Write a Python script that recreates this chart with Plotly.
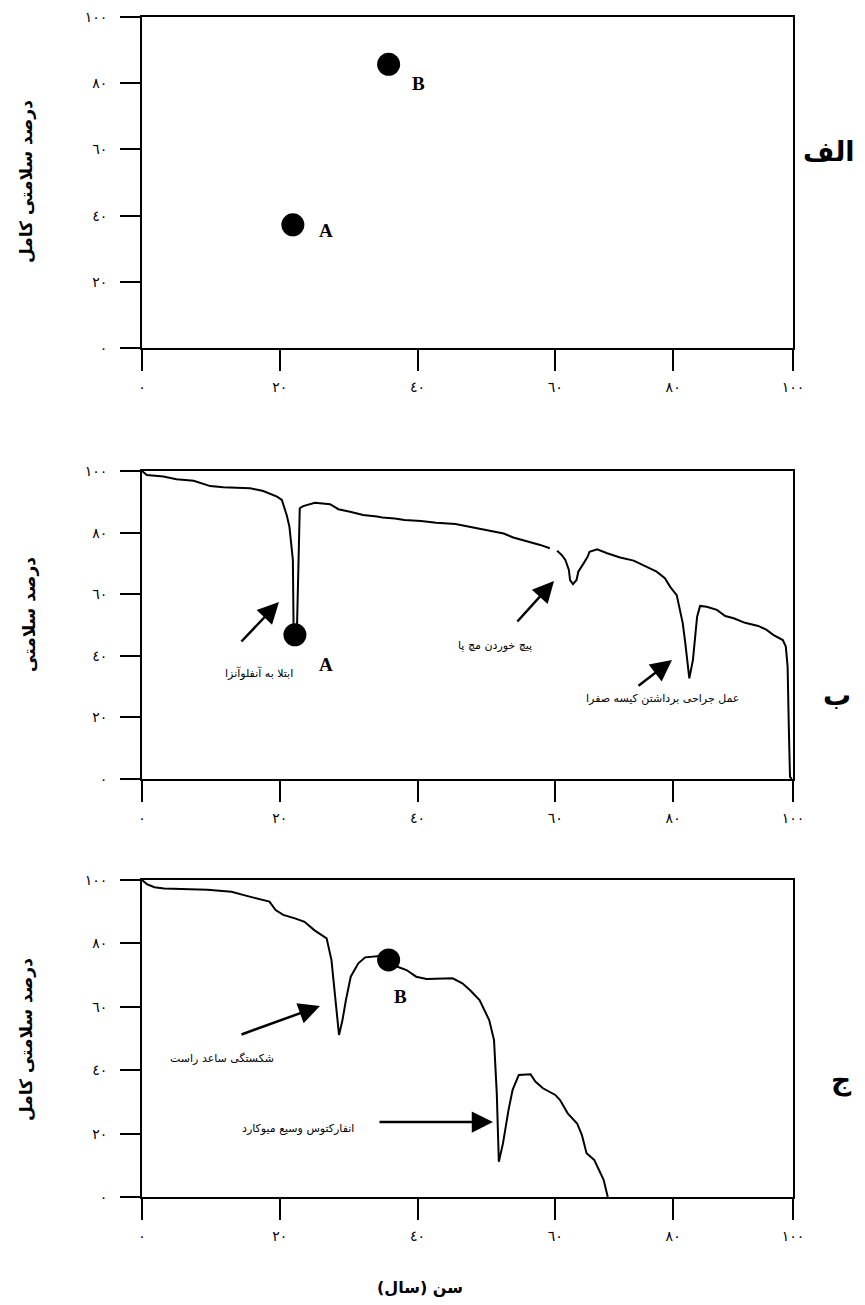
import numpy as np
import plotly.graph_objects as go

# The page body has an 8px margin, so the figure is drawn 8px smaller than the window
# and every reference pixel position is shifted by that offset.
OFF = 8
W, H = 865 - 2 * OFF, 1305 - 2 * OFF

# ---------- axis ticks ----------
TICK_AGES = [0, 20, 40, 60, 80, 100]
TICK_LABELS = ["٠", "٢٠", "٤٠", "٦٠", "٨٠", "١٠٠"]
TICK_POS = [0, 20, 40, 60, 77.1, 94.5]   # the printed age axis is not evenly spaced
Y_TICKS = [0, 20, 40, 60, 80, 100]
Y_LABELS = ["٠", "٢٠", "٤٠", "٦٠", "٨٠", "١٠٠"]

# ---------- panel الف : two points ----------
pts_a_age = [21.9, 35.8]
pts_a_health = [37.2, 85.7]
pts_a_names = ["A", "B"]

# ---------- panel ب : health curve (None = gap in the line) ----------
age_b = [0, 0.7, 3.1, 5.0, 7.5, 9.9, 11.8, 15.7, 17.6, 19.6, 20.3, 21.0, 21.4, 21.9, 22.0,
         22.2, 22.5, 22.7, 22.9, 23.4, 25.1, 27.3, 28.5, 30.2, 32.1, 34.1, 34.9, 36.7, 38.1,
         40.5, 42.7, 45.5, 47.6, 50.4, 52.5, 53.9, 55.8, 57.8, 59.2, None, 60.3, 61.1, 61.7,
         62.3, 62.5, 63.0, 63.6, 63.9, 64.8, 65.5, 65.8, 67.1, 68.8, 71.0, 73.3, 75.5, 77.2,
         78.6, 79.5, 80.6, 81.6, 82.0, 82.7, 83.3, 84.0, 84.5, 85.6, 87.3, 88.7, 90.1, 92.0,
         94.2, 95.6, 96.7, 98.3, 98.8, 99.1, 99.3, 99.5, 99.8]
health_b = [100, 98.7, 98.2, 97.3, 96.8, 95.1, 94.7, 94.4, 93.5, 91.7, 90.6, 85.7, 81.9, 71.1, 49.4,
            46.8, 49.4, 71.1, 87.9, 88.6, 89.7, 89.2, 87.6, 86.8, 85.7, 85.2, 84.9, 84.6, 84.1,
            83.8, 83.2, 82.8, 81.9, 80.8, 79.7, 78.4, 77.3, 76.0, 74.9, None, 74.1, 72.7, 71.1,
            67.9, 64.6, 63.3, 64.6, 67.3, 70.0, 72.2, 73.8, 74.6, 73.3, 71.9, 70.9, 68.9, 67.3,
            65.2, 62.4, 59.7, 50.6, 44.6, 32.7, 38.6, 52.7, 56.2, 55.9, 54.9, 52.9, 52.2, 50.7,
            49.7, 48.4, 46.8, 45.1, 43.0, 36.5, 17.0, 0.7, 0]
pt_b_age = [22.2]
pt_b_health = [46.8]

# ---------- panel ج : health curve ----------
age_c = [0, 0.7, 1.8, 3.2, 9.5, 13.0, 15.2, 18.5, 19.4, 20.5, 22.2, 23.6, 25.0, 26.4, 26.8,
         27.5, 28.0, 28.4, 28.6, 29.1, 29.6, 30.3, 31.4, 32.4, 34.5, 35.8, 37.0, 38.4, 39.8,
         41.3, 45.1, 46.5, 47.6, 49.0, 49.7, 50.4, 51.1, 51.5, 51.8, 52.4, 53.2, 53.8, 54.7,
         56.4, 57.1, 58.2, 60.0, 60.8, 62.1, 63.7, 64.5, 65.3, 66.6, 67.4, 68.2, 68.9]
health_c = [100, 98.7, 97.7, 97.3, 96.9, 96.3, 95.0, 93.2, 90.5, 89.0, 87.9, 86.8, 84.2, 82.3, 81.6,
            74.8, 64.3, 55.8, 51.1, 55.8, 62.1, 69.5, 73.7, 75.6, 76.0, 74.8, 72.7, 71.6, 69.5,
            68.8, 69.0, 67.4, 65.3, 62.1, 59.0, 55.8, 49.5, 32.7, 11.1, 16.9, 27.4, 33.8, 38.5,
            38.7, 36.4, 34.3, 32.2, 30.6, 26.4, 23.2, 19.6, 13.8, 11.7, 8.5, 5.4, 0]
pt_c_age = [35.8]
pt_c_health = [74.8]


def to_axis(ages):
    return [None if a is None else float(np.interp(a, TICK_AGES, TICK_POS)) for a in ages]


def P(px, py):
    return (px - OFF) / W, 1 - (py - OFF) / H


FONT = "DejaVu Sans"
SERIF = "Liberation Serif"
LINE = dict(color="black", width=2)
DOT = dict(size=23, color="black")

fig = go.Figure()

# panel الف
fig.add_trace(go.Scatter(x=to_axis(pts_a_age), y=pts_a_health, mode="markers",
                         marker=DOT, cliponaxis=False,
                         xaxis="x", yaxis="y", showlegend=False))
# panel ب
fig.add_trace(go.Scatter(x=to_axis(age_b), y=health_b, mode="lines", line=LINE,
                         connectgaps=False, cliponaxis=False,
                         xaxis="x2", yaxis="y2", showlegend=False))
fig.add_trace(go.Scatter(x=to_axis(pt_b_age), y=pt_b_health, mode="markers",
                         marker=DOT, cliponaxis=False,
                         xaxis="x2", yaxis="y2", showlegend=False))
# panel ج
fig.add_trace(go.Scatter(x=to_axis(age_c), y=health_c, mode="lines", line=LINE,
                         cliponaxis=False, xaxis="x3", yaxis="y3", showlegend=False))
fig.add_trace(go.Scatter(x=to_axis(pt_c_age), y=pt_c_health, mode="markers",
                         marker=DOT, cliponaxis=False,
                         xaxis="x3", yaxis="y3", showlegend=False))

XDOM = [(142 - OFF) / W, (793 - OFF) / W]


def ydom(top, bottom):
    return [1 - (bottom - OFF) / H, 1 - (top - OFF) / H]


YDOMS = [ydom(17, 348), ydom(471, 779), ydom(880, 1197)]

tickfont = dict(family=FONT, size=14, color="black")


def xax(anchor):
    return dict(domain=XDOM, range=[0, TICK_POS[-1]], tickmode="array", tickvals=TICK_POS,
                ticktext=TICK_LABELS, ticks="outside", ticklen=21, tickwidth=2,
                tickcolor="black", showline=True, linewidth=2, linecolor="black",
                mirror=True, showgrid=False, zeroline=False, anchor=anchor,
                tickfont=tickfont, ticklabelstandoff=4, automargin=False, fixedrange=True)


def yax(i, anchor):
    return dict(domain=YDOMS[i], range=[0, 100], tickmode="array", tickvals=Y_TICKS,
                ticktext=Y_LABELS, ticks="outside", ticklen=20, tickwidth=2,
                tickcolor="black", showline=True, linewidth=2, linecolor="black",
                mirror=True, showgrid=False, zeroline=False, anchor=anchor,
                tickfont=tickfont, ticklabelstandoff=10, automargin=False, fixedrange=True)


ann = []


def text(px, py, s, size=12, bold=False, family=FONT, angle=0):
    x, y = P(px, py)
    ann.append(dict(x=x, y=y, xref="paper", yref="paper", text=f"<b>{s}</b>" if bold else s,
                    showarrow=False, font=dict(family=family, size=size, color="black"),
                    xanchor="center", yanchor="middle", textangle=angle))


def arrow(tx, ty, hx, hy):
    x, y = P(hx, hy)
    ann.append(dict(x=x, y=y, xref="paper", yref="paper", ax=tx - hx, ay=ty - hy,
                    axref="pixel", ayref="pixel", text="", showarrow=True,
                    arrowhead=2, arrowsize=1.7, arrowwidth=2.5, arrowcolor="black"))


# panel letters
text(829, 152, "الف", size=27, bold=True)
text(837, 695, "ب", size=28, bold=True)
text(841, 1080, "ج", size=28, bold=True)

# y titles
text(26, 182, "درصد سلامتی کامل", size=17, bold=True, angle=-90)
text(29, 615, "درصد سلامتی", size=17, bold=True, angle=-90)
text(26, 1040, "درصد سلامتی کامل", size=17, bold=True, angle=-90)

# x title
text(420, 1287, "سن (سال)", size=16, bold=True)

# point labels
text(326, 231, "A", size=19, bold=True, family=SERIF)
text(418, 83, "B", size=19, bold=True, family=SERIF)
text(326, 664, "A", size=19, bold=True, family=SERIF)
text(400, 996, "B", size=19, bold=True, family=SERIF)

# panel ب annotations
text(259, 673, "ابتلا به آنفلوآنزا", size=11)
arrow(240, 643, 279, 602)
text(495, 646, "پیچ خوردن مچ پا", size=11)
arrow(516, 623, 554, 581)
text(662, 698, "عمل جراحی برداشتن کیسه صفرا", size=11)
arrow(637, 687, 672, 660)

# panel ج annotations
text(222, 1058, "شکستگی ساعد راست", size=11)
arrow(240, 1035, 320, 1006)
text(298, 1128, "انفارکتوس وسیع میوکارد", size=11)
arrow(378, 1122, 493, 1122)

fig.update_layout(
    width=W, height=H, margin=dict(l=0, r=0, t=0, b=0),
    paper_bgcolor="white", plot_bgcolor="white",
    xaxis=xax("y"), yaxis=yax(0, "x"),
    xaxis2=xax("y2"), yaxis2=yax(1, "x2"),
    xaxis3=xax("y3"), yaxis3=yax(2, "x3"),
    annotations=ann, showlegend=False,
)

fig.write_html("out.html")
